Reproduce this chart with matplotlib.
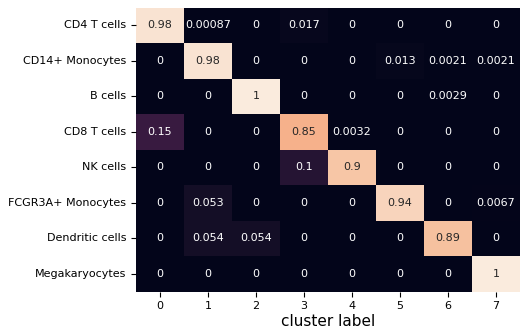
import numpy as np
import matplotlib
matplotlib.use("Agg")
import matplotlib.pyplot as plt
import seaborn as sns

cell_types = ["CD4 T cells", "CD14+ Monocytes", "B cells", "CD8 T cells",
              "NK cells", "FCGR3A+ Monocytes", "Dendritic cells", "Megakaryocytes"]
cluster_labels = ["0", "1", "2", "3", "4", "5", "6", "7"]

cd4_t = [0.98, 0.00087, 0, 0.017, 0, 0, 0, 0]
cd14_mono = [0, 0.98, 0, 0, 0, 0.013, 0.0021, 0.0021]
b_cells = [0, 0, 1, 0, 0, 0, 0.0029, 0]
cd8_t = [0.15, 0, 0, 0.85, 0.0032, 0, 0, 0]
nk_cells = [0, 0, 0, 0.1, 0.9, 0, 0, 0]
fcgr3a_mono = [0, 0.053, 0, 0, 0, 0.94, 0, 0.0067]
dendritic = [0, 0.054, 0.054, 0, 0, 0, 0.89, 0]
megakaryo = [0, 0, 0, 0, 0, 0, 0, 1]

matrix = np.array([cd4_t, cd14_mono, b_cells, cd8_t, nk_cells,
                   fcgr3a_mono, dendritic, megakaryo])

fig = plt.figure(figsize=(5.2, 3.3), dpi=100)
ax = fig.add_axes([136 / 520, 38.5 / 330, 384 / 520, 284 / 330])
sns.heatmap(matrix, annot=True, cbar=False, ax=ax,
            xticklabels=cluster_labels, yticklabels=cell_types,
            annot_kws={"fontsize": 8})
ax.tick_params(labelsize=8)
ax.set_xlabel("cluster label", fontsize=11, labelpad=2)
plt.setp(ax.get_yticklabels(), rotation=0)
plt.setp(ax.get_xticklabels(), rotation=0)
fig.savefig("out.png", dpi=100)
